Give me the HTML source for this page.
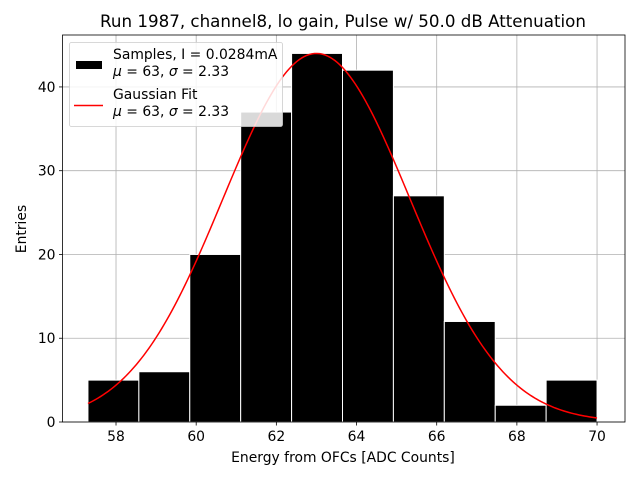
<!DOCTYPE html>
<html><head><meta charset="utf-8"><style>
body{margin:0;background:#fff;}
svg{display:block;font-family:"DejaVu Sans","Liberation Sans",sans-serif;}
</style></head><body>
<svg id="chart" width="640" height="480"></svg>
<script>
const binStart = 57.3;
const binWidth = 1.27;
const counts = [5, 6, 20, 37, 44, 42, 27, 12, 2, 5];
const fitMu = 63;
const fitSigma = 2.33;
const fitAmp = 44;
const xTicks = [58, 60, 62, 64, 66, 68, 70];
const yTicks = [0, 10, 20, 30, 40];

const NS = "http://www.w3.org/2000/svg";
const svg = document.getElementById('chart');
const L = 62.5, R = 622.5, T = 35, B = 422;
const xmin = 56.665, xmax = 70.635, ymax = 46.2;
const sx = v => L + (v - xmin) / (xmax - xmin) * (R - L);
const sy = v => B - v / ymax * (B - T);
function mk(tag, attrs, parent) {
  const e = document.createElementNS(NS, tag);
  for (const k in attrs) e.setAttribute(k, attrs[k]);
  (parent || svg).appendChild(e);
  return e;
}
const grid = mk('g', {});


xTicks.forEach(t => mk('line', {x1: sx(t), x2: sx(t), y1: T, y2: B, stroke: '#b0b0b0', 'stroke-width': 0.8}, grid));
yTicks.forEach(t => mk('line', {x1: L, x2: R + 2.5, y1: sy(t), y2: sy(t), stroke: '#b0b0b0', 'stroke-width': 0.8}, grid));
counts.forEach((c, i) => {
  const x0 = sx(binStart + i * binWidth), x1 = sx(binStart + (i + 1) * binWidth);
  const r = mk('rect', {x: x0, y: sy(c), width: x1 - x0, height: sy(0) - sy(c), fill: '#000', stroke: '#fff', 'stroke-width': 1});
  
  
});
let d = '';
const xEnd = binStart + counts.length * binWidth;
for (let k = 0; k <= 200; k++) {
  const x = binStart + (xEnd - binStart) * k / 200;
  const y = fitAmp * Math.exp(-Math.pow(x - fitMu, 2) / (2 * fitSigma * fitSigma));
  d += (k ? 'L' : 'M') + sx(x).toFixed(2) + ',' + sy(y).toFixed(2);
}
const curve = mk('path', {d: d, fill: 'none', stroke: '#ff0000', 'stroke-width': 1.5});


const frame = mk('rect', {x: L, y: T, width: R + 2.5 - L, height: B - T, fill: 'none', stroke: '#000', 'stroke-width': 0.8});


xTicks.forEach(t => {
  mk('line', {x1: sx(t), x2: sx(t), y1: B, y2: B + 3.5, stroke: '#000', 'stroke-width': 0.8});
  const tx = mk('text', {x: sx(t), y: B + 19, 'font-size': 13.9, 'text-anchor': 'middle'});
  tx.textContent = t;
  
  
});
yTicks.forEach(t => {
  mk('line', {x1: L - 3.5, x2: L, y1: sy(t), y2: sy(t), stroke: '#000', 'stroke-width': 0.8});
  const tx = mk('text', {x: L - 7, y: sy(t) + 5, 'font-size': 13.9, 'text-anchor': 'end'});
  tx.textContent = t;
  
  
});
</script>
<svg width="640" height="480" style="position:absolute;left:0;top:0">
  <text x="343" y="27" font-size="16.7" text-anchor="middle" font-family="DejaVu Sans, sans-serif">Run 1987, channel8, lo gain, Pulse w/ 50.0 dB Attenuation</text>
  <text x="343" y="462" font-size="13.9" text-anchor="middle" font-family="DejaVu Sans, sans-serif">Energy from OFCs [ADC Counts]</text>
  <text x="26" y="229" font-size="13.9" text-anchor="middle" font-family="DejaVu Sans, sans-serif" transform="rotate(-90 26 229)">Entries</text>
  <g font-family="DejaVu Sans, sans-serif" font-size="13.9">
    <rect x="69.5" y="42.5" width="213" height="84" rx="2" fill="#fff" fill-opacity="0.85" stroke="#ccc" stroke-width="0.8"/>
    <rect x="76" y="61" width="26" height="8" fill="#000"/>
    <text x="113" y="59">Samples, I = 0.0284mA</text>
    <text x="113" y="76"><tspan font-style="italic">μ</tspan> = 63, <tspan font-style="italic">σ</tspan> = 2.33</text>
    <line x1="74" x2="103" y1="105.5" y2="105.5" stroke="#ff0000" stroke-width="1.5"/>
    <text x="113" y="99">Gaussian Fit</text>
    <text x="113" y="116"><tspan font-style="italic">μ</tspan> = 63, <tspan font-style="italic">σ</tspan> = 2.33</text>
  </g>
</svg>
</body></html>
